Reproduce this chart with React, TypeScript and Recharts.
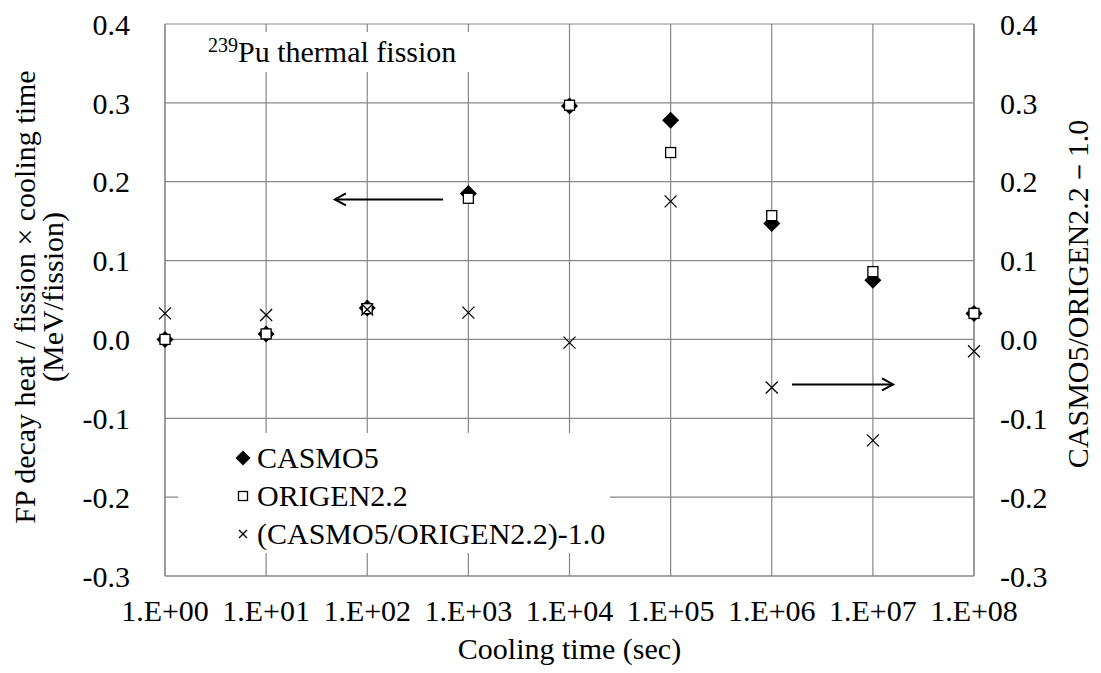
import React from 'react';
import {
  ScatterChart,
  Scatter,
  XAxis,
  YAxis,
  CartesianGrid,
  Legend,
  ReferenceLine,
} from 'recharts';

// cooling time in seconds
const COOLING_TIME = [1, 1e1, 1e2, 1e3, 1e4, 1e5, 1e6, 1e7, 1e8];
// FP decay heat / fission x cooling time (MeV/fission)
const CASMO5 = [0.0, 0.007, 0.04, 0.185, 0.296, 0.278, 0.147, 0.075, 0.033];
const ORIGEN22 = [0.0, 0.007, 0.039, 0.179, 0.297, 0.237, 0.157, 0.086, 0.033];
// CASMO5/ORIGEN2.2 - 1.0
const RATIO = [0.033, 0.031, 0.038, 0.034, -0.004, 0.175, -0.061, -0.128, -0.015];

const Y_TICKS = [-0.3, -0.2, -0.1, 0.0, 0.1, 0.2, 0.3, 0.4];

// arrow annotations: [from, to] in (seconds, value)
const LEFT_ARROW = [{ x: 10 ** 2.75, y: 0.1775 }, { x: 10 ** 1.68, y: 0.1775 }];
const RIGHT_ARROW = [{ x: 10 ** 6.2, y: -0.057 }, { x: 10 ** 7.2, y: -0.057 }];

const FONT = '"Liberation Serif", "Times New Roman", serif';
const GRID = '#878787';

const toPoints = (vals: number[]) => COOLING_TIME.map((t, i) => ({ x: t, y: vals[i] }));
const casmoData = toPoints(CASMO5);
const origenData = toPoints(ORIGEN22);
const ratioData = toPoints(RATIO);

const fmtX = (v: number) => `1.E+${String(Math.round(Math.log10(v))).padStart(2, '0')}`;
const fmtY = (v: number) => v.toFixed(1);

const Diamond = ({ cx, cy, r = 8.5 }: any) => (
  <path d={`M${cx},${cy - r}L${cx + r},${cy}L${cx},${cy + r}L${cx - r},${cy}Z`} fill="#000" />
);
const Square = ({ cx, cy, s = 10 }: any) => (
  <rect x={cx - s / 2} y={cy - s / 2} width={s} height={s} fill="#fff" stroke="#000" strokeWidth={1.3} />
);
const Cross = ({ cx, cy, r = 6 }: any) => (
  <g stroke="#000" strokeWidth={1.2}>
    <line x1={cx - r} y1={cy - r} x2={cx + r} y2={cy + r} />
    <line x1={cx - r} y1={cy + r} x2={cx + r} y2={cy - r} />
  </g>
);

const Arrow = (props: any) => {
  const { x1, y1, x2, y2 } = props;
  const dir = Math.sign(x2 - x1);
  return (
    <g stroke="#000" strokeWidth={2} fill="none">
      <line x1={x1} y1={y1} x2={x2} y2={y2} />
      <polyline points={`${x2 - dir * 11},${y2 - 6} ${x2},${y2} ${x2 - dir * 11},${y2 + 6}`} />
    </g>
  );
};

const LEGEND = [
  { label: 'CASMO5', kind: 'diamond' },
  { label: 'ORIGEN2.2', kind: 'square' },
  { label: '(CASMO5/ORIGEN2.2)-1.0', kind: 'cross' },
];

const LegendBox = () => (
  <div
    style={{
      width: 432,
      height: 120,
      boxSizing: 'border-box',
      background: '#fff',
      paddingTop: 6,
      paddingLeft: 56,
      fontFamily: FONT,
      fontSize: 30,
      color: '#000',
    }}
  >
    {LEGEND.map((it) => (
      <div key={it.label} style={{ height: 38, lineHeight: '38px', display: 'flex', alignItems: 'center', whiteSpace: 'nowrap' }}>
        <svg width={18} height={18} style={{ marginRight: 5, flexShrink: 0 }}>
          {it.kind === 'diamond' && <Diamond cx={9} cy={9} r={7.5} />}
          {it.kind === 'square' && <Square cx={9} cy={9} s={9} />}
          {it.kind === 'cross' && <Cross cx={9} cy={9} r={4} />}
        </svg>
        <span>{it.label}</span>
      </div>
    ))}
  </div>
);

const XTitle = ({ viewBox }: any) => (
  <text x={viewBox.x + viewBox.width / 2} y={viewBox.y + 83} textAnchor="middle" fontFamily={FONT} fontSize={30} fill="#000">
    Cooling time (sec)
  </text>
);

const LeftTitle = () => (
  <g fontFamily={FONT} fontSize={30} fill="#000" textAnchor="middle">
    <text transform="translate(35,297) rotate(-90)">FP decay heat / fission × cooling time</text>
    <text transform="translate(63,297) rotate(-90)">(MeV/fission)</text>
  </g>
);

const RightTitle = () => (
  <text transform="translate(1088,294) rotate(-90)" textAnchor="middle" fontFamily={FONT} fontSize={30} fill="#000">
    CASMO5/ORIGEN2.2－1.0
  </text>
);

export default function App() {
  const tick = { fontFamily: FONT, fontSize: 30, fill: '#000' };
  return (
    <div style={{ position: 'absolute', left: 0, top: 0, width: 1101, height: 673, background: '#fff' }}>
      <ScatterChart width={1101} height={673} margin={{ top: 24, right: 0, bottom: 0, left: 0 }}>
        <CartesianGrid yAxisId="left" stroke={GRID} strokeWidth={1.2} />
        <XAxis
          dataKey="x"
          type="number"
          scale="log"
          domain={[1, 1e8]}
          ticks={COOLING_TIME}
          tickFormatter={fmtX}
          height={97}
          tickSize={0}
          tickMargin={24}
          tick={tick}
          axisLine={{ stroke: GRID, strokeWidth: 1.2 }}
          interval={0}
          label={<XTitle />}
        />
        <YAxis
          yAxisId="left"
          dataKey="y"
          type="number"
          domain={[-0.3, 0.4]}
          ticks={Y_TICKS}
          tickFormatter={fmtY}
          width={165}
          tickSize={0}
          tickMargin={35}
          tick={tick}
          axisLine={{ stroke: GRID, strokeWidth: 1.2 }}
          interval={0}
          label={<LeftTitle />}
        />
        <YAxis
          yAxisId="right"
          orientation="right"
          dataKey="y"
          type="number"
          domain={[-0.3, 0.4]}
          ticks={Y_TICKS}
          tickFormatter={fmtY}
          width={127}
          tickSize={0}
          tickMargin={26}
          tick={{ ...tick, textAnchor: 'start' }}
          axisLine={{ stroke: GRID, strokeWidth: 1.2 }}
          interval={0}
          label={<RightTitle />}
        />
        <Legend
          layout="vertical"
          align="center"
          verticalAlign="middle"
          content={<LegendBox />}
          wrapperStyle={{ left: 178, top: 433, width: 432, height: 120 }}
        />
        <ReferenceLine yAxisId="left" segment={LEFT_ARROW} shape={Arrow} ifOverflow="visible" />
        <ReferenceLine yAxisId="right" segment={RIGHT_ARROW} shape={Arrow} ifOverflow="visible" />
        <Scatter name="CASMO5" data={casmoData} yAxisId="left" shape={<Diamond />} isAnimationActive={false} />
        <Scatter name="ORIGEN2.2" data={origenData} yAxisId="left" shape={<Square />} isAnimationActive={false} />
        <Scatter name="(CASMO5/ORIGEN2.2)-1.0" data={ratioData} yAxisId="right" shape={<Cross />} isAnimationActive={false} />
      </ScatterChart>
      <div
        style={{
          position: 'absolute',
          left: 200,
          top: 32,
          width: 275,
          height: 40,
          lineHeight: '40px',
          background: '#fff',
          paddingLeft: 8,
          boxSizing: 'border-box',
          fontFamily: FONT,
          fontSize: 30,
          color: '#000',
          whiteSpace: 'nowrap',
        }}
      >
        <span style={{ fontSize: 20, position: 'relative', top: -10 }}>239</span>
        Pu thermal fission
      </div>
    </div>
  );
}
